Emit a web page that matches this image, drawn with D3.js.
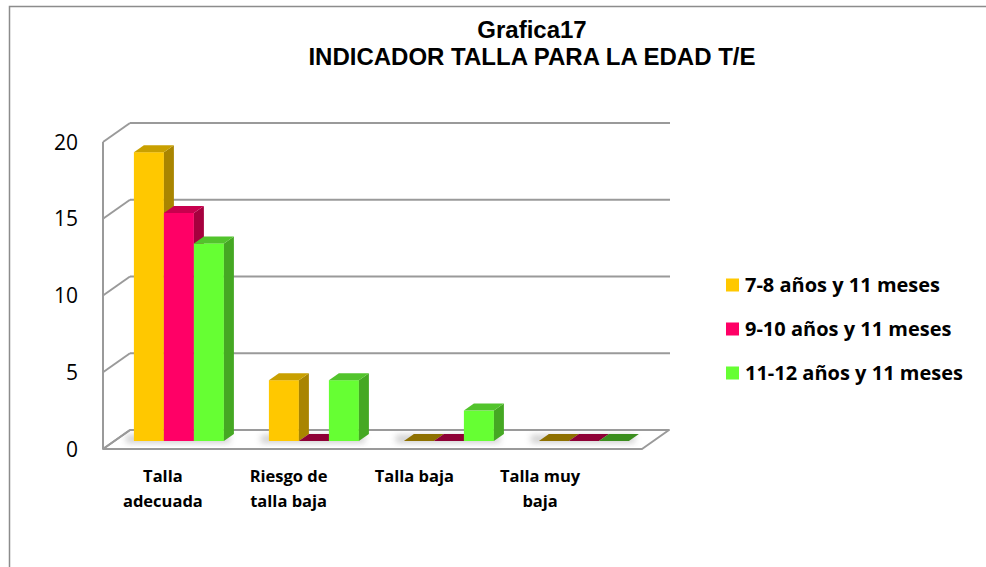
<!DOCTYPE html>
<html><head><meta charset="utf-8">
<script src="https://cdn.jsdelivr.net/npm/d3@7"></script>
<style>html,body{margin:0;padding:0;background:#fff;overflow:hidden}</style>
</head><body>
<svg id="c" width="986" height="567"></svg>
<script>
const categories = ["Talla\nadecuada", "Riesgo de\ntalla baja", "Talla baja", "Talla muy\nbaja"];
const seriesNames = ["7-8 años y 11 meses", "9-10 años y 11 meses", "11-12 años y 11 meses"];
const values78 = [19, 4, 0, 0];
const values910 = [15, 0, 0, 0];
const values1112 = [13, 4, 2, 0];
const yTicks = [0, 5, 10, 15, 20];
const titleLines = ["Grafica17", "INDICADOR TALLA PARA LA EDAD T/E"];

const seriesValues = [values78, values910, values1112];
const colors = [
  {front:"#FFC800", side:"#A98500", top:"#C9A000", zero:"#8E7000"},
  {front:"#FF0066", side:"#A6003E", top:"#C8004E", zero:"#8E0035"},
  {front:"#66FF33", side:"#45A823", top:"#52C42C", zero:"#3B8E1E"}
];

const svg = d3.select("#c");
const font = "'Open Sans', sans-serif";

// outer border
svg.append("rect").attr("x", 9.5).attr("y", 6.5).attr("width", 1000).attr("height", 600)
  .attr("fill", "#fff").attr("stroke", "#8c8c8c").attr("stroke-width", 1.5);

// title
svg.append("g").selectAll("text").data(titleLines).join("text")
  .attr("x", 532).attr("y", (d, i) => 38 + i * 27)
  .attr("text-anchor", "middle")
  .attr("font-family", "'Liberation Sans', Arial, sans-serif")
  .attr("font-weight", "bold").attr("font-size", 24).attr("fill", "#000")
  .text(d => d);

// geometry
const DX = 27, DY = -19;          // floor depth
const y = d3.scaleLinear().domain([0, 20]).range([449, 142]);
const x = d3.scaleBand().domain(categories).range([100, 640]);
const xs = d3.scaleBand().domain(seriesNames).range([0, x.bandwidth()]).paddingOuter(0.75).paddingInner(0);
const xLabel = d3.scaleBand().domain(categories).range([100, 603]);
const floorLeft = 103, floorRight = 642;
const barOff = {dx: 11.4, dy: -8};   // bar front plane offset from front edge
const barDepth = {dx: 10, dy: -7};
const yBar = d3.scaleLinear().domain([0, 20]).range([y(0) + barOff.dy, y(0) + barOff.dy - 304]);

const defs = svg.append("defs");
const blur = defs.append("filter").attr("id", "blur").attr("x", "-50%").attr("y", "-50%").attr("width", "200%").attr("height", "200%");
blur.append("feGaussianBlur").attr("stdDeviation", 3);

// floor
const floor = [[floorLeft, y(0)], [floorRight, y(0)], [floorRight + DX, y(0) + DY], [floorLeft + DX, y(0) + DY]];
svg.append("polygon").attr("points", floor.map(p => p.join(",")).join(" "))
  .attr("fill", "#fff").attr("stroke", "#9a9a9a").attr("stroke-width", 2).attr("stroke-linejoin", "round");

// back gridlines and left wall
const grid = svg.append("g").attr("stroke", "#9a9a9a").attr("stroke-width", 2).attr("fill", "none");
grid.selectAll("line.h").data(yTicks.filter(d => d > 0)).join("line")
  .attr("x1", floorLeft + DX).attr("x2", floorRight + DX + 1)
  .attr("y1", d => y(d) + DY).attr("y2", d => y(d) + DY);
grid.selectAll("line.d").data(yTicks).join("line")
  .attr("x1", floorLeft).attr("x2", floorLeft + DX)
  .attr("y1", d => y(d)).attr("y2", d => y(d) + DY);
grid.append("line").attr("x1", floorLeft).attr("x2", floorLeft)
  .attr("y1", y(20)).attr("y2", y(0));

// shadows on floor
const shadowG = svg.append("g").attr("filter", "url(#blur)").attr("opacity", 0.35);
categories.forEach(c => {
  const x0 = x(c) + barOff.dx + xs(seriesNames[0]);
  shadowG.append("rect").attr("x", x0 - 8).attr("y", y(0) + barOff.dy - 6)
    .attr("width", xs.bandwidth() * 3 + 14).attr("height", 8).attr("fill", "#777");
});

// bars
const bars = svg.append("g");
categories.forEach((c, ci) => {
  seriesNames.forEach((s, si) => {
    const v = seriesValues[si][ci];
    const col = colors[si];
    const x0 = x(c) + barOff.dx + xs(s);
    const w = xs.bandwidth();
    const yb = yBar(0);
    const yt = yBar(v);
    const g = bars.append("g");
    if (v > 0) {
      g.append("rect").attr("x", x0).attr("y", yt).attr("width", w).attr("height", yb - yt).attr("fill", col.front);
      g.append("polygon").attr("points", [[x0 + w, yt], [x0 + w + barDepth.dx, yt + barDepth.dy], [x0 + w + barDepth.dx, yb + barDepth.dy], [x0 + w, yb]].map(p => p.join(",")).join(" "))
        .attr("fill", col.side);
      g.append("polygon").attr("points", [[x0, yt], [x0 + barDepth.dx, yt + barDepth.dy], [x0 + w + barDepth.dx, yt + barDepth.dy], [x0 + w, yt]].map(p => p.join(",")).join(" "))
        .attr("fill", col.top);
    } else {
      g.append("polygon").attr("points", [[x0, yb], [x0 + barDepth.dx, yb + barDepth.dy], [x0 + w + barDepth.dx, yb + barDepth.dy], [x0 + w, yb]].map(p => p.join(",")).join(" "))
        .attr("fill", col.zero);
    }
  });
});

// y labels
svg.append("g").selectAll("text").data(yTicks).join("text")
  .attr("x", 78).attr("y", d => y(d)).attr("dy", "0.36em")
  .attr("text-anchor", "end").attr("font-family", font).attr("font-size", 21).attr("fill", "#000")
  .text(d => d);

// category labels
const cl = svg.append("g").selectAll("text").data(categories).join("text")
  .attr("text-anchor", "middle").attr("font-family", font).attr("font-weight", "bold")
  .attr("font-size", 16.5).attr("fill", "#000");
cl.each(function(d) {
  const t = d3.select(this);
  d.split("\n").forEach((line, i) => {
    t.append("tspan").attr("x", xLabel(d) + xLabel.bandwidth() / 2).attr("y", 482 + i * 25).text(line);
  });
});

// legend
const lg = svg.append("g").selectAll("g").data(seriesNames).join("g")
  .attr("transform", (d, i) => `translate(726, ${285 + i * 44})`);
lg.append("rect").attr("x", 0).attr("y", -6.5).attr("width", 13).attr("height", 13)
  .attr("fill", (d, i) => colors[i].front);
lg.append("text").attr("x", 19).attr("y", 0).attr("dy", "0.36em")
  .attr("font-family", font).attr("font-weight", "bold").attr("font-size", 20).attr("fill", "#000")
  .text(d => d);
</script>
</body></html>
